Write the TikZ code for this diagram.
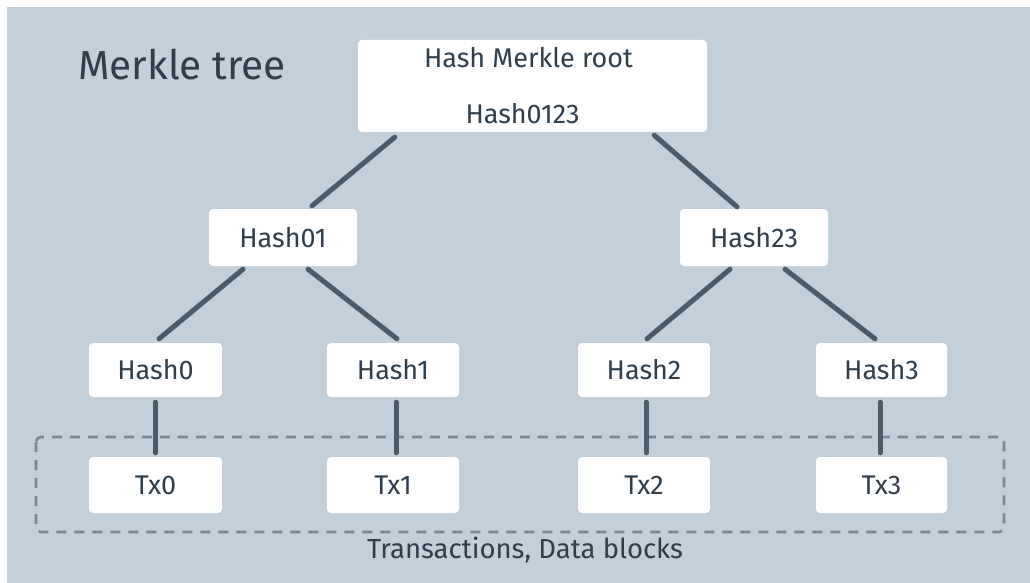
\documentclass[tikz,border=0pt]{standalone}
\usepackage{fontspec}
\setmainfont{Fira Sans}
\usetikzlibrary{calc}
\definecolor{bgc}{HTML}{C3CFD9}
\definecolor{txtc}{HTML}{2F3E4A}
\definecolor{linec}{HTML}{4A5B69}
\definecolor{dashc}{HTML}{7A8896}
\tikzset{
  box/.style={draw=none, fill=white, rounded corners=4pt, inner sep=0pt, text=txtc,
    font=\fontsize{27}{32}\selectfont},
  conn/.style={draw=linec, line width=5pt, line cap=round},
  dashbox/.style={draw=dashc, line width=2.6pt, dash pattern=on 10pt off 8pt, rounded corners=5pt},
  lbl/.style={text=txtc, inner sep=0pt}
}
\begin{document}
\begin{tikzpicture}[x=1pt,y=-1pt]
\useasboundingbox (0,0) rectangle (1030,583);
\fill[white] (0,0) rectangle (1030,583);
\fill[bgc] (7,7) rectangle (1030,583);

\node[lbl, anchor=base west, font=\fontsize{40.5}{48}\selectfont] (title) at (78,80) {Merkle tree};

\node[box, minimum width=349pt, minimum height=92pt, align=center] (root) at (532.5,86)
  {\hspace*{-8pt}Hash Merkle root\\[24pt]\hspace*{-20pt}Hash0123};

\node[box, minimum width=148pt, minimum height=57pt] (h01) at (283,237.5) {Hash01};
\node[box, minimum width=148pt, minimum height=57pt] (h23) at (754,237.5) {Hash23};

\node[box, minimum width=133pt, minimum height=54pt] (h0) at (155.5,370) {Hash0};
\node[box, minimum width=132pt, minimum height=54pt] (h1) at (393,370) {Hash1};
\node[box, minimum width=132pt, minimum height=54pt] (h2) at (644,370) {Hash2};
\node[box, minimum width=131pt, minimum height=54pt] (h3) at (881.5,370) {Hash3};

\draw[dashbox] (36,437) rectangle (1004,532);

\node[box, minimum width=133pt, minimum height=56pt] (t0) at (155.5,485) {Tx0};
\node[box, minimum width=132pt, minimum height=56pt] (t1) at (393,485) {Tx1};
\node[box, minimum width=132pt, minimum height=56pt] (t2) at (644,485) {Tx2};
\node[box, minimum width=131pt, minimum height=56pt] (t3) at (881.5,485) {Tx3};

\node[lbl, font=\fontsize{27.5}{32}\selectfont] (cap) at (525,550) {Transactions, Data blocks};

\draw[conn] ([shift={(37,5)}]root.south west) -- ([shift={(29,-3)}]h01.north);
\draw[conn] ([shift={(-53,3)}]root.south east) -- ([shift={(-17,-2)}]h23.north);
\draw[conn] ([shift={(-40,3)}]h01.south) -- ([shift={(3.5,-4)}]h0.north);
\draw[conn] ([shift={(25,3)}]h01.south) -- ([shift={(4,-4)}]h1.north);
\draw[conn] ([shift={(-24,3)}]h23.south) -- ([shift={(3,-4)}]h2.north);
\draw[conn] ([shift={(31,3)}]h23.south) -- ([shift={(-6.5,-4)}]h3.north);
\draw[conn] ([shift={(0,5)}]h0.south) -- ([shift={(0,-4)}]t0.north);
\draw[conn] ([shift={(3,5)}]h1.south) -- ([shift={(3,-4)}]t1.north);
\draw[conn] ([shift={(2,5)}]h2.south) -- ([shift={(2,-4)}]t2.north);
\draw[conn] ([shift={(-1.5,5)}]h3.south) -- ([shift={(-1.5,-4)}]t3.north);
\end{tikzpicture}
\end{document}
